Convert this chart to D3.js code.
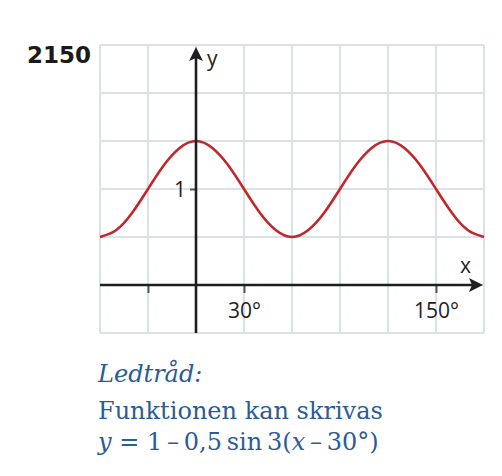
<!DOCTYPE html>
<html>
<head>
<meta charset="utf-8">
<script src="https://cdn.jsdelivr.net/npm/d3@7"></script>
<style>
  body { margin: 0; background: #fff; }
  svg { display: block; }
</style>
</head>
<body>
<div id="chart"></div>
<script>
// points (x in degrees, y)
const curveX = [-60, -50, -40, -30, -20, -10, 0, 10, 20, 30, 40, 50, 60, 70, 80, 90, 100, 110, 120, 130, 140, 150, 160, 170, 180]
const curveY = [0.5, 0.57, 0.75, 1, 1.25, 1.43, 1.5, 1.43, 1.25, 1, 0.75, 0.57, 0.5, 0.57, 0.75, 1, 1.25, 1.43, 1.5, 1.43, 1.25, 1, 0.75, 0.57, 0.5]

const gridX = [-60, -30, 0, 30, 60, 90, 120, 150, 180]
const gridY = [-0.5, 0, 0.5, 1, 1.5, 2, 2.5]
const xTicks = [-30, 30, 150]
const xTickLabels = ["", "30°", "150°"]
const yTicks = [1]
const yTickLabels = ["1"]

const problemNo = "2150"
const hintLines = ["Ledtråd:", "Funktionen kan skrivas"]

let width = 502,
    height = 476;

let svg = d3.select('#chart')
    .append('svg')
    .attr("width", width)
    .attr("height", height)

let x = d3.scaleLinear().domain([-60, 180]).range([100, 484])
let y = d3.scaleLinear().domain([-0.5, 2.5]).range([333, 45])

const gridColor = "#d6e3eb"
const axisColor = "#1e1e1e"
const textBlue = "#2b5b98"

// grid
svg.append("g")
    .selectAll("line")
    .data(gridX)
    .enter().append("line")
    .attr("x1", d => x(d)).attr("x2", d => x(d))
    .attr("y1", y(2.5)).attr("y2", y(-0.5))
    .attr("stroke", gridColor)
    .attr("stroke-width", 2)

svg.append("g")
    .selectAll("line")
    .data(gridY)
    .enter().append("line")
    .attr("y1", d => y(d)).attr("y2", d => y(d))
    .attr("x1", x(-60)).attr("x2", x(180))
    .attr("stroke", gridColor)
    .attr("stroke-width", 2)

// curve
let points = curveX.map((d, i) => [d, curveY[i]])
let line = d3.line()
    .x(d => x(d[0]))
    .y(d => y(d[1]))
    .curve(d3.curveNatural)

svg.append("path")
    .datum(points)
    .attr("d", line)
    .attr("fill", "none")
    .attr("stroke", "#c1272d")
    .attr("stroke-width", 2.6)

// x axis
let xAxis = svg.append("g")
    .attr("transform", "translate(0," + y(0) + ")")
    .call(d3.axisBottom(x).tickValues(xTicks).tickSize(8)
        .tickFormat((d, i) => xTickLabels[i]))
xAxis.select(".domain").remove()
xAxis.selectAll(".tick line").attr("stroke", "#555").attr("stroke-width", 2)
xAxis.selectAll(".tick text")
    .attr("y", 33).attr("dy", 0)
    .attr("fill", "#222")
    .attr("font-family", "Open Sans")
    .attr("font-size", 21)

svg.append("line")
    .attr("x1", x(-60)).attr("x2", x(180) - 8)
    .attr("y1", y(0)).attr("y2", y(0))
    .attr("stroke", axisColor)
    .attr("stroke-width", 2.6)

// y axis
let yAxis = svg.append("g")
    .attr("transform", "translate(" + x(0) + ",0)")
    .call(d3.axisLeft(y).tickValues(yTicks).tickSize(6)
        .tickFormat((d, i) => yTickLabels[i]))
yAxis.select(".domain").remove()
yAxis.selectAll(".tick line").attr("stroke", "#555").attr("stroke-width", 2)
yAxis.selectAll(".tick text")
    .attr("x", -10).attr("dy", "0.36em")
    .attr("fill", "#222")
    .attr("font-family", "Open Sans")
    .attr("font-size", 21)

svg.append("line")
    .attr("x1", x(0)).attr("x2", x(0))
    .attr("y1", y(-0.5)).attr("y2", y(2.5) + 8)
    .attr("stroke", axisColor)
    .attr("stroke-width", 2.6)

// arrowheads
let arrow = "M0,0 L7,14 L0,11 L-7,14 Z"
svg.append("path")
    .attr("d", arrow)
    .attr("transform", "translate(" + x(0) + "," + (y(2.5) + 2) + ")")
    .attr("fill", axisColor)
svg.append("path")
    .attr("d", arrow)
    .attr("transform", "translate(" + (x(180) - 1) + "," + y(0) + ") rotate(90)")
    .attr("fill", axisColor)

// axis names
svg.append("text")
    .attr("x", x(0) + 11).attr("y", y(2.5) + 21)
    .attr("font-family", "Open Sans").attr("font-size", 21)
    .attr("fill", "#222")
    .text("y")
svg.append("text")
    .attr("x", x(180) - 24).attr("y", y(0) - 12)
    .attr("font-family", "Open Sans").attr("font-size", 21)
    .attr("fill", "#222")
    .text("x")

// problem number
svg.append("text")
    .attr("x", 27).attr("y", 63)
    .attr("font-family", "DejaVu Sans").attr("font-weight", "bold")
    .attr("font-size", 23)
    .attr("fill", "#1a1a1a")
    .text(problemNo)

// hint text
svg.append("text")
    .attr("x", 98).attr("y", 382)
    .attr("font-family", "DejaVu Serif").attr("font-style", "italic")
    .attr("font-size", 24)
    .attr("fill", textBlue)
    .text(hintLines[0])

svg.append("text")
    .attr("x", 98).attr("y", 419)
    .attr("font-family", "DejaVu Serif")
    .attr("font-size", 24)
    .attr("fill", textBlue)
    .text(hintLines[1])

let formula = svg.append("text")
    .attr("x", 98).attr("y", 450)
    .attr("font-family", "DejaVu Serif")
    .attr("font-size", 24)
    .attr("fill", textBlue)
formula.append("tspan").attr("font-style", "italic").text("y")
formula.append("tspan").text(" = 1\u2009–\u20090,5\u2009sin\u20093(")
formula.append("tspan").attr("font-style", "italic").text("x")
formula.append("tspan").text("\u2009–\u200930°)")
</script>
</body>
</html>
